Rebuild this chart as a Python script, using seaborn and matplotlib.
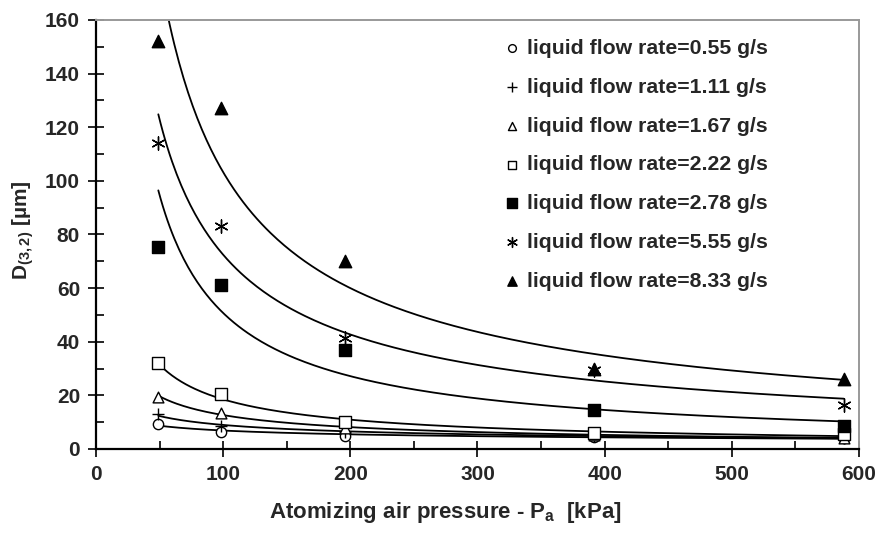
import numpy as np
import pandas as pd
import matplotlib
matplotlib.use("Agg")
import matplotlib.pyplot as plt
import seaborn as sns
from matplotlib.ticker import MultipleLocator

# ---- data ----
pressure = [49, 98, 196, 392, 588]
flow_labels = ["liquid flow rate=0.55 g/s", "liquid flow rate=1.11 g/s",
               "liquid flow rate=1.67 g/s", "liquid flow rate=2.22 g/s",
               "liquid flow rate=2.78 g/s", "liquid flow rate=5.55 g/s",
               "liquid flow rate=8.33 g/s"]
d_055 = [9.5, 6.5, 5.0, 4.5, 4.0]
d_111 = [13.0, 8.5, 6.5, 5.0, 4.0]
d_167 = [19.5, 13.5, 8.0, 5.2, 4.2]
d_222 = [32.0, 20.5, 10.0, 5.8, 5.5]
d_278 = [75.5, 61.0, 37.0, 14.5, 8.5]
d_555 = [114.0, 83.0, 41.5, 29.5, 16.5]
d_833 = [152.0, 127.0, 70.0, 30.0, 26.0]
series = [d_055, d_111, d_167, d_222, d_278, d_555, d_833]

sns.set_theme(style="white")
plt.rcParams["font.family"] = ["Liberation Sans", "DejaVu Sans"]
plt.rcParams["font.weight"] = "bold"
plt.rcParams["mathtext.fontset"] = "custom"
plt.rcParams["mathtext.rm"] = "Liberation Sans:bold"
plt.rcParams["mathtext.it"] = "Liberation Sans:bold"
plt.rcParams["mathtext.bf"] = "Liberation Sans:bold"

fig = plt.figure(figsize=(8.78, 5.35), dpi=100)
ax = fig.add_axes([96/878, 1-449/535, (859-96)/878, (449-20)/535])

styles = [
    dict(marker="o", facecolor="white", s=55),
    dict(marker="+", facecolor="black", s=80),
    dict(marker="^", facecolor="white", s=60),
    dict(marker="s", facecolor="white", s=70),
    dict(marker="s", facecolor="black", s=80),
    dict(marker=(6, 2, 0), facecolor="black", s=90),
    dict(marker="^", facecolor="black", s=80),
]

# power-law fitted curves
for y in series:
    b, lna = np.polyfit(np.log(pressure), np.log(y), 1)
    xf = np.linspace(min(pressure), max(pressure), 300)
    yf = np.exp(lna) * xf ** b
    sns.lineplot(x=xf, y=yf, ax=ax, color="black", lw=1.3, legend=False,
                 zorder=2)

for y, lab, st in zip(series, flow_labels, styles):
    df = pd.DataFrame({"P": pressure, "D": y})
    sns.scatterplot(data=df, x="P", y="D", ax=ax, marker=st["marker"],
                    s=st["s"], facecolor=st["facecolor"], edgecolor="black",
                    color="black", linewidth=1.0, label=lab, zorder=3)

ax.set_xlim(0, 600)
ax.set_ylim(0, 160)
ax.xaxis.set_major_locator(MultipleLocator(100))
ax.xaxis.set_minor_locator(MultipleLocator(50))
ax.yaxis.set_major_locator(MultipleLocator(20))
ax.yaxis.set_minor_locator(MultipleLocator(10))
ax.tick_params(which="major", direction="inout", length=11, width=1.2,
               color="black", labelsize=15, pad=6)
ax.tick_params(which="minor", direction="in", length=6, width=1.2,
               color="black")
ax.tick_params(axis="x", bottom=True, which="both")
ax.tick_params(axis="y", left=True, which="both")
for lbl in ax.get_xticklabels() + ax.get_yticklabels():
    lbl.set_fontweight("bold")

for side in ["left", "bottom"]:
    ax.spines[side].set_color("black")
    ax.spines[side].set_linewidth(1.6)
for side in ["top", "right"]:
    ax.spines[side].set_color("#999999")
    ax.spines[side].set_linewidth(1.4)

ax.set_xlabel(r"Atomizing air pressure - P$_\mathregular{a}$  [kPa]",
              fontsize=16, fontweight="bold")
ax.xaxis.set_label_coords((445-96)/763, -(500-449)/429)
ax.set_ylabel(r"D$_{(3,2)}$ [µm]", fontsize=15, fontweight="bold")
ax.yaxis.set_label_coords(-(96-36)/763, (449-230)/429)

leg = ax.legend(loc="upper left", bbox_to_anchor=((506-96)/763, (449-39)/429),
                frameon=False, fontsize=15.3, handlelength=0.6,
                handletextpad=0.4, labelspacing=0.93, markerscale=0.75,
                borderpad=0, borderaxespad=0)
for t in leg.get_texts():
    t.set_fontweight("bold")

fig.savefig("out.png", dpi=100)
